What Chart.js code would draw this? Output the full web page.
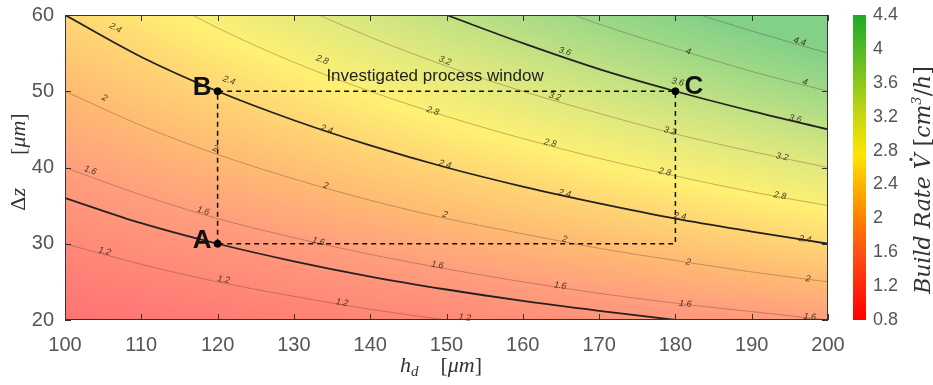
<!DOCTYPE html>
<html>
<head>
<meta charset="utf-8">
<script src="https://cdn.jsdelivr.net/npm/chart.js@4.4.0/dist/chart.umd.min.js"></script>
<style>
html, body { margin: 0; padding: 0; background: #fff; }
#chart { display: block; }
</style>
</head>
<body>
<canvas id="chart" width="933" height="385"></canvas>
<script>
// build rate readings on a coarse grid (rows = dz, cols = hd)
const gridHd = [100, 120, 140, 160, 180, 200];
const gridDz = [20, 30, 40, 50, 60];
const gridRate = [
  [0.80, 0.96, 1.12, 1.28, 1.44, 1.60],
  [1.20, 1.44, 1.68, 1.92, 2.16, 2.40],
  [1.60, 1.92, 2.24, 2.56, 2.88, 3.20],
  [2.00, 2.40, 2.80, 3.20, 3.60, 4.00],
  [2.40, 2.88, 3.36, 3.84, 4.32, 4.80]
];

// iso lines [hd, dz]
const contourLevels = [1.2, 1.6, 2.0, 2.4, 2.8, 3.2, 3.6, 4.0, 4.4];
const contourLines = [
  [[100,30],[110,27.3],[120,25],[130,23.1],[140,21.4],[150,20]],
  [[100,40],[110,36.4],[120,33.3],[130,30.8],[140,28.6],[150,26.7],[160,25],[170,23.5],[180,22.2],[190,21.1],[200,20]],
  [[100,50],[110,45.5],[120,41.7],[130,38.5],[140,35.7],[150,33.3],[160,31.3],[170,29.4],[180,27.8],[190,26.3],[200,25]],
  [[100,60],[110,54.5],[120,50],[130,46.2],[140,42.9],[150,40],[160,37.5],[170,35.3],[180,33.3],[190,31.6],[200,30]],
  [[116.7,60],[120,58.3],[130,53.8],[140,50],[150,46.7],[160,43.8],[170,41.2],[180,38.9],[190,36.8],[200,35]],
  [[133.3,60],[140,57.1],[150,53.3],[160,50],[170,47.1],[180,44.4],[190,42.1],[200,40]],
  [[150,60],[160,56.3],[170,52.9],[180,50],[190,47.4],[200,45]],
  [[166.7,60],[170,58.8],[180,55.6],[190,52.6],[200,50]],
  [[183.3,60],[190,57.9],[200,55]]
];
const boldLevels = [2.4, 3.6];
const lowerBound = [[100,36],[110,32.7],[120,30],[130,27.7],[140,25.7],[150,24],[160,22.5],[170,21.2],[180,20]];

const pointNames = ['A', 'B', 'C'];
const pointHd = [120, 120, 180];
const pointDz = [30, 50, 50];
const windowCorners = [[120,30],[120,50],[180,50],[180,30],[120,30]];

// contour label text, hd, dz
const contourLabels = [
  ['2.4',106.6,58.3], ['2.4',121.5,51.4], ['2',105.2,49.1], ['1.6',103.3,39.6], ['1.2',105.2,29.0],
  ['1.2',120.8,25.3], ['1.6',118.1,34.3], ['2',119.7,42.5], ['2.8',133.7,54.1], ['3.2',149.8,54.0],
  ['2.8',148.2,47.4], ['2.4',134.3,45.0], ['2.4',149.8,40.4], ['2',134.2,37.6], ['2',149.8,33.8],
  ['1.6',133.2,30.3], ['1.6',148.8,27.2], ['1.2',136.3,22.3], ['1.2',152.4,20.3], ['3.6',165.5,55.2],
  ['3.2',164.2,49.3], ['2.8',163.6,43.2], ['2.4',165.5,36.6], ['2',165.5,30.6], ['1.6',164.9,24.5],
  ['4',181.7,55.2], ['4.4',196.3,56.5], ['3.6',180.3,51.2], ['4',197.0,51.2], ['3.6',195.7,46.4],
  ['3.2',179.3,44.8], ['2.8',178.6,39.4], ['3.2',194.0,41.4], ['2.8',193.7,36.3], ['2.4',180.6,33.6],
  ['2.4',197.0,30.6], ['2',181.7,27.6], ['2',197.4,25.4], ['1.6',181.3,22.1], ['1.6',197.6,20.4]
];

const xTickValues = [100, 110, 120, 130, 140, 150, 160, 170, 180, 190, 200];
const yTickValues = [20, 30, 40, 50, 60];
const rateTickValues = [0.8, 1.2, 1.6, 2.0, 2.4, 2.8, 3.2, 3.6, 4.0, 4.4];

const cmap = [
  [0.8, [255, 0, 0]], [1.6, [255, 80, 20]], [2.0, [255, 130, 0]], [2.4, [255, 180, 0]],
  [2.75, [255, 228, 0]], [3.2, [200, 215, 20]], [3.6, [140, 200, 30]], [4.0, [80, 185, 35]], [4.4, [30, 170, 40]]
];
const fieldAlpha = 0.55;

function colorFor(v) {
  if (v <= cmap[0][0]) return cmap[0][1];
  for (let i = 0; i < cmap.length - 1; i++) {
    const a = cmap[i], b = cmap[i + 1];
    if (v <= b[0]) {
      const t = (v - a[0]) / (b[0] - a[0]);
      return a[1].map((c, k) => c + (b[1][k] - c) * t);
    }
  }
  return cmap[cmap.length - 1][1];
}

function sampleGrid(hd, dz) {
  let i = 0, j = 0;
  while (i < gridHd.length - 2 && hd > gridHd[i + 1]) i++;
  while (j < gridDz.length - 2 && dz > gridDz[j + 1]) j++;
  const tx = (hd - gridHd[i]) / (gridHd[i + 1] - gridHd[i]);
  const ty = (dz - gridDz[j]) / (gridDz[j + 1] - gridDz[j]);
  const r0 = gridRate[j][i] * (1 - tx) + gridRate[j][i + 1] * tx;
  const r1 = gridRate[j + 1][i] * (1 - tx) + gridRate[j + 1][i + 1] * tx;
  return r0 * (1 - ty) + r1 * ty;
}

const toXY = arr => arr.map(p => ({ x: p[0], y: p[1] }));

const datasets = [];
datasets.push({
  data: pointHd.map((h, i) => ({ x: h, y: pointDz[i] })),
  showLine: false, pointRadius: 3.5, backgroundColor: '#000', borderColor: '#000', order: 0
});
datasets.push({
  data: toXY(windowCorners), showLine: true, borderColor: '#111', borderWidth: 1.5,
  borderDash: [5, 4], pointRadius: 0, tension: 0, order: 1
});
datasets.push({
  data: toXY(lowerBound), showLine: true, borderColor: '#222', borderWidth: 1.8,
  pointRadius: 0, cubicInterpolationMode: 'monotone', order: 2
});
contourLines.forEach((line, i) => {
  const bold = boldLevels.includes(contourLevels[i]);
  datasets.push({
    data: toXY(line), showLine: true,
    borderColor: bold ? '#222' : 'rgba(90,45,20,0.33)',
    borderWidth: bold ? 1.8 : 1,
    pointRadius: 0, cubicInterpolationMode: 'monotone', order: bold ? 2 : 3
  });
});

const fieldPlugin = {
  id: 'field',
  beforeDatasetsDraw(chart) {
    const { ctx, chartArea: a, scales: { x, y } } = chart;
    const w = Math.round(a.right - a.left), h = Math.round(a.bottom - a.top);
    const img = ctx.createImageData(w, h);
    for (let j = 0; j < h; j++) {
      const dz = y.getValueForPixel(a.top + j + 0.5);
      for (let i = 0; i < w; i++) {
        const hd = x.getValueForPixel(a.left + i + 0.5);
        const c = colorFor(sampleGrid(hd, dz));
        const k = (j * w + i) * 4;
        img.data[k] = 255 * (1 - fieldAlpha) + c[0] * fieldAlpha;
        img.data[k + 1] = 255 * (1 - fieldAlpha) + c[1] * fieldAlpha;
        img.data[k + 2] = 255 * (1 - fieldAlpha) + c[2] * fieldAlpha;
        img.data[k + 3] = 255;
      }
    }
    ctx.putImageData(img, Math.round(a.left), Math.round(a.top));
  }
};

function angleAt(line, hd, x, y) {
  let i = 0;
  while (i < line.length - 2 && hd > line[i + 1][0]) i++;
  const dx = x.getPixelForValue(line[i + 1][0]) - x.getPixelForValue(line[i][0]);
  const dy = y.getPixelForValue(line[i + 1][1]) - y.getPixelForValue(line[i][1]);
  return Math.atan2(dy, dx);
}

function drawRuns(ctx, runs, cx, cy) {
  let total = 0;
  runs.forEach(r => { ctx.font = r.f; total += ctx.measureText(r.t).width; });
  let px = cx - total / 2;
  ctx.textAlign = 'left';
  ctx.textBaseline = 'alphabetic';
  runs.forEach(r => {
    ctx.font = r.f;
    const w = ctx.measureText(r.t).width;
    ctx.fillText(r.t, px, cy + (r.dy || 0));
    if (r.dot) {
      ctx.beginPath();
      ctx.arc(px + w * 0.62, cy - r.dot, 1.6, 0, Math.PI * 2);
      ctx.fill();
    }
    px += w;
  });
}

const overlayPlugin = {
  id: 'overlay',
  afterDatasetsDraw(chart) {
    const { ctx, chartArea: a, scales: { x, y, rate } } = chart;
    ctx.save();

    // contour labels
    ctx.fillStyle = 'rgba(45,35,15,0.85)';
    ctx.font = 'italic 9px "Liberation Sans", Arial, sans-serif';
    ctx.textAlign = 'center';
    ctx.textBaseline = 'middle';
    contourLabels.forEach(([txt, hd, dz]) => {
      const li = contourLevels.indexOf(parseFloat(txt));
      const ang = angleAt(contourLines[li], hd, x, y);
      ctx.save();
      ctx.translate(x.getPixelForValue(hd), y.getPixelForValue(dz));
      ctx.rotate(ang);
      ctx.fillText(txt, 0, 0);
      ctx.restore();
    });

    // box + inside ticks
    ctx.strokeStyle = '#333';
    ctx.lineWidth = 1;
    ctx.strokeRect(a.left + 0.5, a.top + 0.5, a.right - a.left - 1, a.bottom - a.top - 1);
    ctx.beginPath();
    xTickValues.forEach(v => {
      const px = Math.round(x.getPixelForValue(v)) + 0.5;
      ctx.moveTo(px, a.bottom); ctx.lineTo(px, a.bottom - 6);
      ctx.moveTo(px, a.top); ctx.lineTo(px, a.top + 6);
    });
    yTickValues.forEach(v => {
      const py = Math.round(y.getPixelForValue(v)) + 0.5;
      ctx.moveTo(a.left, py); ctx.lineTo(a.left + 6, py);
      ctx.moveTo(a.right, py); ctx.lineTo(a.right - 6, py);
    });
    ctx.stroke();

    // point names and window caption
    ctx.fillStyle = '#111';
    ctx.font = 'bold 26px "Liberation Sans", Arial, sans-serif';
    ctx.textBaseline = 'alphabetic';
    pointNames.forEach((n, i) => {
      const px = x.getPixelForValue(pointHd[i]);
      const py = y.getPixelForValue(pointDz[i]);
      if (n === 'C') { ctx.textAlign = 'left'; ctx.fillText(n, px + 9, py + 3); }
      else { ctx.textAlign = 'right'; ctx.fillText(n, px - 6, py + 4); }
    });
    ctx.font = '17px "Liberation Sans", Arial, sans-serif';
    ctx.textAlign = 'center';
    ctx.fillStyle = '#222';
    ctx.fillText('Investigated process window', x.getPixelForValue(148.5), y.getPixelForValue(51.3));

    // colour bar
    const top = rate.getPixelForValue(4.4), bot = rate.getPixelForValue(0.8);
    const g = ctx.createLinearGradient(0, bot, 0, top);
    cmap.forEach(([v, c]) => g.addColorStop(Math.min(1, Math.max(0, (v - 0.8) / 3.6)), 'rgb(' + c.join(',') + ')'));
    ctx.fillStyle = g;
    ctx.fillRect(853, top, 13, bot - top);

    // axis titles
    const serif = '"Liberation Serif", "Times New Roman", serif';
    const wide = '"DejaVu Serif", "Liberation Serif", serif';
    ctx.fillStyle = '#333';
    drawRuns(ctx, [
      { t: 'h', f: 'italic 22px ' + serif },
      { t: 'd', f: 'italic 15px ' + serif, dy: 4 },
      { t: '    [', f: '22px ' + serif },
      { t: 'μm', f: 'italic 22px ' + serif },
      { t: ']', f: '22px ' + serif }
    ], 441, 372);

    ctx.save();
    ctx.translate(25, 162);
    ctx.rotate(-Math.PI / 2);
    drawRuns(ctx, [
      { t: 'Δ', f: '22px ' + serif },
      { t: 'z', f: 'italic 22px ' + serif },
      { t: '      [', f: '22px ' + serif },
      { t: 'μm', f: 'italic 22px ' + serif },
      { t: ']', f: '22px ' + serif }
    ], 0, 0);
    ctx.restore();

    ctx.save();
    ctx.translate(930, 180);
    ctx.rotate(-Math.PI / 2);
    drawRuns(ctx, [
      { t: 'Build Rate ', f: 'italic 22px ' + wide },
      { t: 'V', f: 'italic 22px ' + wide, dot: 19 },
      { t: ' [', f: '22px ' + wide },
      { t: 'cm', f: 'italic 22px ' + wide },
      { t: '3', f: 'italic 13px ' + wide, dy: -9 },
      { t: '/', f: '22px ' + wide },
      { t: 'h', f: 'italic 22px ' + wide },
      { t: ']', f: '22px ' + wide }
    ], 0, 0);
    ctx.restore();

    ctx.restore();
  }
};

const tickFont = { family: '"Liberation Sans", Arial, sans-serif', size: 20 };

new Chart(document.getElementById('chart'), {
  type: 'scatter',
  data: { datasets },
  options: {
    responsive: false,
    animation: false,
    devicePixelRatio: 1,
    layout: { padding: { top: 15, left: 0, right: 0, bottom: 0 } },
    plugins: { legend: { display: false }, tooltip: { enabled: false } },
    scales: {
      x: {
        type: 'linear', min: 100, max: 200,
        afterBuildTicks: s => { s.ticks = xTickValues.map(v => ({ value: v })); },
        afterFit: s => { s.height = 65; },
        grid: { display: false }, border: { display: false },
        ticks: { color: '#555', font: tickFont, padding: 5, maxRotation: 0 }
      },
      y: {
        type: 'linear', min: 20, max: 60,
        afterBuildTicks: s => { s.ticks = yTickValues.map(v => ({ value: v })); },
        afterFit: s => { s.width = 65; },
        grid: { display: false }, border: { display: false },
        ticks: { color: '#555', font: tickFont, padding: 3 }
      },
      rate: {
        type: 'linear', position: 'right', min: 0.8, max: 4.4,
        afterBuildTicks: s => { s.ticks = rateTickValues.map(v => ({ value: v })); },
        afterFit: s => { s.width = 105; },
        grid: { display: true, drawOnChartArea: false, drawTicks: true, tickLength: 43, color: 'rgba(0,0,0,0)' },
        border: { display: false },
        ticks: {
          color: '#555', font: { family: tickFont.family, size: 18 }, padding: 2,
          callback: v => String(+v.toFixed(1))
        }
      }
    }
  },
  plugins: [fieldPlugin, overlayPlugin]
});
</script>
</body>
</html>
